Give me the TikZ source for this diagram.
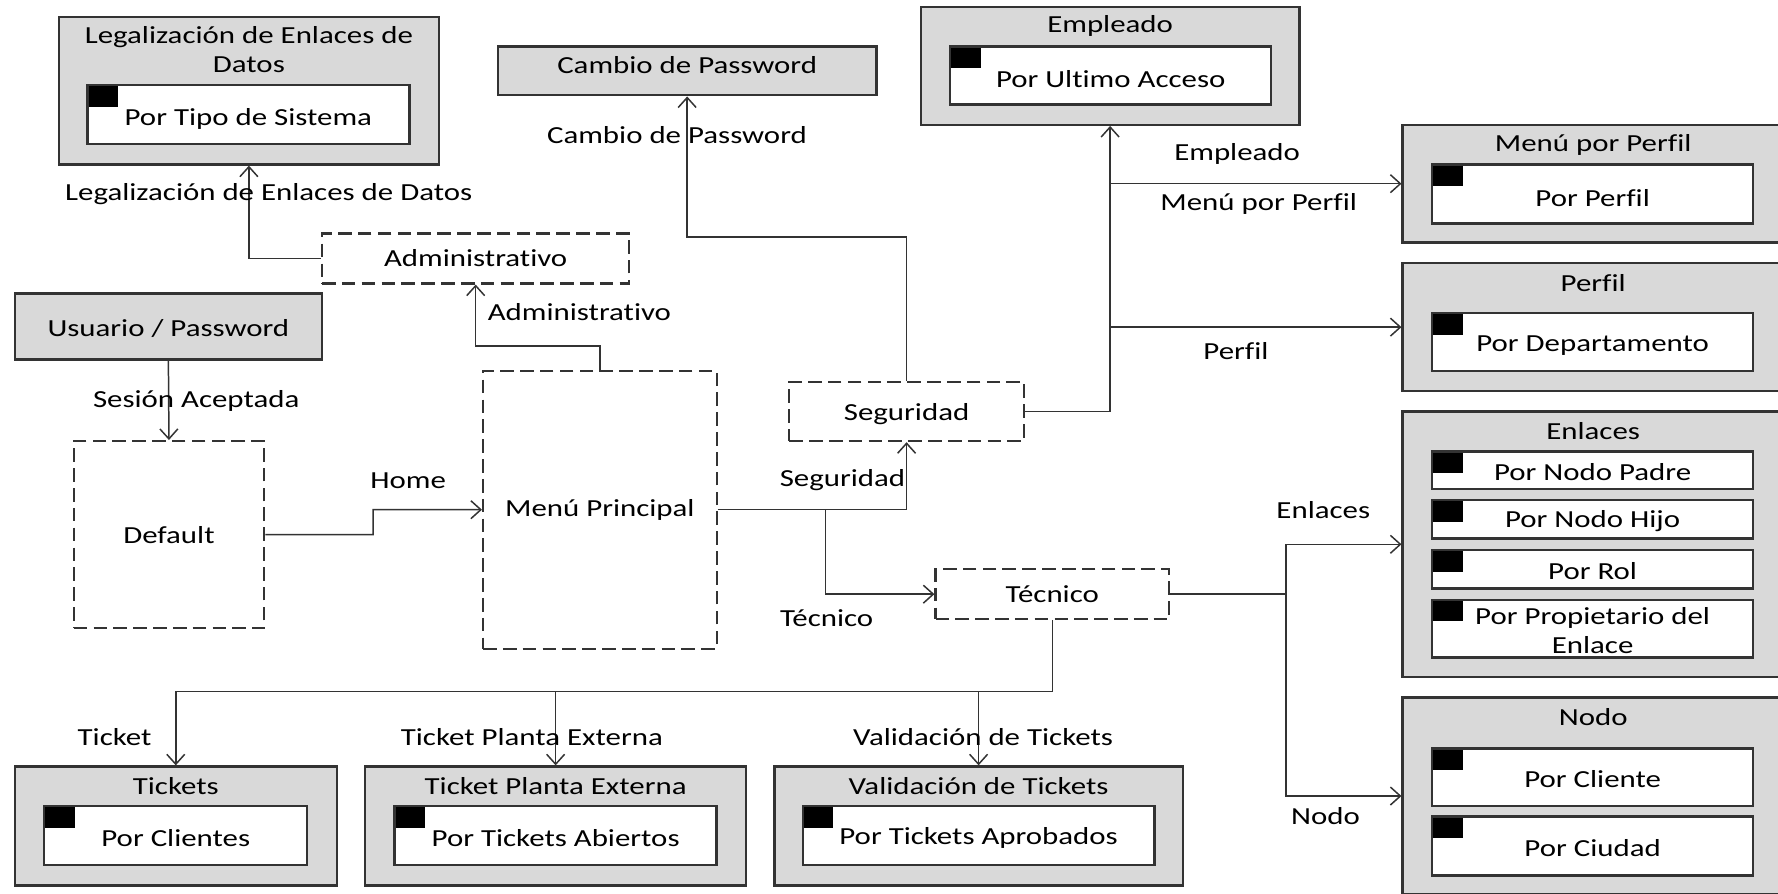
\documentclass[tikz,border=0pt]{standalone}
\usepackage{fontspec}
\setmainfont{Carlito}[FakeStretch=1.26,Ligatures={NoCommon}]
\usetikzlibrary{arrows.meta,fit}
\definecolor{boxgray}{HTML}{D9D9D9}
\definecolor{edge}{HTML}{333333}
\begin{document}
\begin{tikzpicture}[x=0.02cm,y=-0.02cm,
  font=\fontsize{12.3}{14.5}\selectfont,
  outerbox/.style={draw=edge,fill=boxgray,line width=1.2pt,inner sep=0pt},
  itembox/.style={draw=edge,fill=white,line width=1.2pt,inner sep=0pt,align=center,
    path picture={\fill[black] (path picture bounding box.north west) rectangle ++(27,19);}},
  dashbox/.style={draw=edge,line width=1.1pt,dash pattern=on 0.24cm off 0.11cm,inner sep=0pt},
  conn/.style={draw=edge,line width=0.75pt,-{Straight Barb[length=5pt,width=9pt,line width=0.75pt]}},
  plainline/.style={draw=edge,line width=0.75pt},
  lbl/.style={inner sep=0pt,align=center},
]
\useasboundingbox (0,0) rectangle (1568,788);

% ---- grouped screens with their reports ----
\node[outerbox,fit={(52,15)(387,145)}] (legal) {};
\node[lbl] (legalT) at (219.5,44) {Legalización de Enlaces de\\Datos};
\node[itembox,fit={(77,75)(361,127)}] (legalA) {};
\node[lbl] at ([yshift=-2]legalA.center) {Por Tipo de Sistema};

\node[outerbox,fit={(439,41)(773,84)}] (cambio) {};
\node[lbl] at ([yshift=3]cambio.center) {Cambio de Password};

\node[outerbox,fit={(812,6)(1146,110)}] (empl) {};
\node[lbl] at (979,23) {Empleado};
\node[itembox,fit={(838,41)(1121,92)}] (emplA) {};
\node[lbl] at ([yshift=-2]emplA.center) {Por Ultimo Acceso};

\node[outerbox,fit={(1237,110)(1580,214)}] (mpp) {};
\node[lbl] at (1405,128) {Menú por Perfil};
\node[itembox,fit={(1263,145)(1546,197)}] (mppA) {};
\node[lbl] at ([yshift=-2]mppA.center) {Por Perfil};

\node[outerbox,fit={(1237,232)(1580,345)}] (perf) {};
\node[lbl] at (1405,250) {Perfil};
\node[itembox,fit={(1263,276)(1546,327)}] (perfA) {};
\node[lbl] at ([yshift=-2]perfA.center) {Por Departamento};

\node[outerbox,fit={(1237,363)(1580,597)}] (enl) {};
\node[lbl] at (1405,380) {Enlaces};
\node[itembox,fit={(1263,398)(1546,431)}] (enlA) {};
\node[lbl] at ([yshift=-1]enlA.center) {Por Nodo Padre};
\node[itembox,fit={(1263,441)(1546,475)}] (enlB) {};
\node[lbl] at ([yshift=-1]enlB.center) {Por Nodo Hijo};
\node[itembox,fit={(1263,485)(1546,519)}] (enlC) {};
\node[lbl] at ([yshift=-1]enlC.center) {Por Rol};
\node[itembox,fit={(1263,529)(1546,580)}] (enlD) {};
\node[lbl] at ([yshift=-1]enlD.center) {Por Propietario del\\Enlace};

\node[outerbox,fit={(1237,615)(1580,789)}] (nodo) {};
\node[lbl] at (1405,632) {Nodo};
\node[itembox,fit={(1263,660)(1546,711)}] (nodoA) {};
\node[lbl] at ([yshift=-1]nodoA.center) {Por Cliente};
\node[itembox,fit={(1263,720)(1546,772)}] (nodoB) {};
\node[lbl] at ([yshift=-1]nodoB.center) {Por Ciudad};

\node[outerbox,fit={(13,676)(297,781)}] (tick) {};
\node[lbl] at (155,693) {Tickets};
\node[itembox,fit={(39,711)(271,763)}] (tickA) {};
\node[lbl] at ([yshift=-1]tickA.center) {Por Clientes};

\node[outerbox,fit={(322,676)(658,781)}] (tpe) {};
\node[lbl] at (490,693) {Ticket Planta Externa};
\node[itembox,fit={(348,711)(632,763)}] (tpeA) {};
\node[lbl] at ([yshift=-1]tpeA.center) {Por Tickets Abiertos};

\node[outerbox,fit={(683,676)(1043,781)}] (val) {};
\node[lbl] at (863,693) {Validación de Tickets};
\node[itembox,fit={(708,711)(1018,763)}] (valA) {};
\node[lbl] at ([yshift=-1]valA.center) {Por Tickets Aprobados};

% ---- entry and menu screens ----
\node[outerbox,fit={(13,259)(284,317)}] (user) {};
\node[lbl] at ([yshift=-1]user.center) {Usuario / Password};

\node[dashbox,fit={(284,206)(555,250)}] (admin) {};
\node[lbl] at (admin.center) {Administrativo};
\node[dashbox,fit={(65,389)(233,554)}] (default) {};
\node[lbl] at (default.center) {Default};
\node[dashbox,fit={(426,327)(632,572)}] (menu) {};
\node[lbl] at (menu.center) {Menú Principal};
\node[dashbox,fit={(696,337)(903,389)}] (segur) {};
\node[lbl] at ([yshift=-1]segur.center) {Seguridad};
\node[dashbox,fit={(825,502)(1031,546)}] (tec) {};
\node[lbl] at (tec.center) {Técnico};

% ---- junction points ----
\coordinate (jt) at (728,449.5);
\coordinate (je) at (1134,524);
\coordinate (jk) at (928,610);

% ---- connectors ----
\draw[conn] (user.south) -- (default.north);
\draw[conn] (default.east) -- (329,471.5) |- (menu.west);
\draw[conn] (menu.north) -- ++(0,-21) -| (admin.south);
\draw[conn] (admin.west) -| (legal.south);
\draw[conn] (menu.east) -| (segur.south);
\draw[conn] (jt) |- (tec.west);
\draw[conn] (segur.north) -- ++(0,-127) -| (cambio.south);
\draw[conn] (segur.east) -| (empl.south);
\draw[conn] (empl.south |- mpp.west) -- (mpp.west);
\draw[conn] (empl.south |- perf.west) -- (perf.west);
\draw[plainline] (tec.east) -- (je);
\draw[conn] (je) |- (enl.west);
\draw[conn] (je) |- (nodo.west);
\draw[plainline] (tec.south) -- (tec.south |- jk);
\draw[conn] (tec.south |- jk) -| (tick.north);
\draw[conn] (tpe.north |- jk) -- (tpe.north);
\draw[conn] (val.north |- jk) -- (val.north);

% ---- connector labels ----
\node[lbl] at (173,354) {Sesión Aceptada};
\node[lbl] at (360,424) {Home};
\node[lbl] at (511,275) {Administrativo};
\node[lbl] at (237,171) {Legalización de Enlaces de Datos};
\node[lbl] at (597,119) {Cambio de Password};
\node[lbl] at (743,423) {Seguridad};
\node[lbl] at (729,545) {Técnico};
\node[lbl] at (1091,136) {Empleado};
\node[lbl] at (1110,180) {Menú por Perfil};
\node[lbl] at (1090,310) {Perfil};
\node[lbl] at (1167,450) {Enlaces};
\node[lbl] at (1169,720) {Nodo};
\node[lbl] at (101,650) {Ticket};
\node[lbl] at (469,650) {Ticket Planta Externa};
\node[lbl] at (867,650) {Validación de Tickets};
\end{tikzpicture}
\end{document}
